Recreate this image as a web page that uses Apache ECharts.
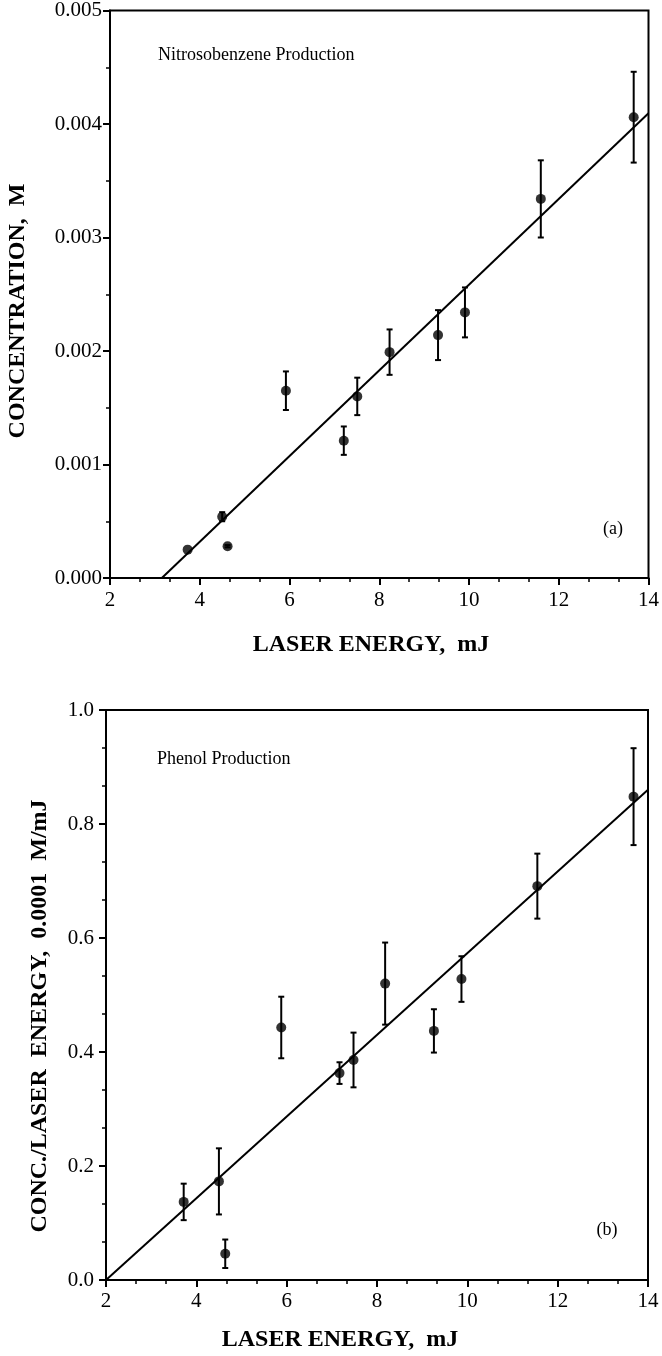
<!DOCTYPE html>
<html>
<head>
<meta charset="utf-8">
<script src="https://cdn.jsdelivr.net/npm/echarts@6/dist/echarts.min.js"></script>
<style>
html,body{margin:0;padding:0;background:#fff;}
#chart{width:662px;height:1356px;}
</style>
</head>
<body>
<div id="chart"></div>
<script>
// ---- Panel (a): Nitrosobenzene production ----
const energyA = [3.73, 4.50, 4.62, 5.92, 7.21, 7.51, 8.23, 9.31, 9.91, 11.60, 13.67];
const concA   = [0.00025, 0.00054, 0.00028, 0.00165, 0.00121, 0.00160, 0.00199, 0.00214, 0.00234, 0.00334, 0.00406];
const errA    = [0, 0.00004, 0.00001, 0.00017, 0.000125, 0.000165, 0.0002, 0.00022, 0.00022, 0.00034, 0.0004];
const fitAx   = [3.155, 14];
const fitAy   = [0, 0.004094];
const yTicksA = [0, 0.001, 0.002, 0.003, 0.004, 0.005];

// ---- Panel (b): Phenol production ----
const energyB = [3.72, 4.50, 4.64, 5.88, 7.17, 7.48, 8.18, 9.26, 9.87, 11.55, 13.68];
const concB   = [0.137, 0.173, 0.046, 0.443, 0.363, 0.386, 0.520, 0.437, 0.528, 0.691, 0.848];
const errB    = [0.032, 0.058, 0.025, 0.054, 0.019, 0.048, 0.072, 0.038, 0.040, 0.057, 0.085];
const fitBx   = [2, 14];
const fitBy   = [0, 0.86];
const yTicksB = [0, 0.2, 0.4, 0.6, 0.8, 1.0];

const xTicks = [2, 4, 6, 8, 10, 12, 14];

const FONT = "'Liberation Serif', 'Times New Roman', serif";

function errData(xs, ys, es) {
  return xs.map((x, i) => [x, ys[i] - es[i], ys[i] + es[i], es[i]]);
}
function pairs(xs, ys) { return xs.map((x, i) => [x, ys[i]]); }

function errRender(params, api) {
  const e = api.value(3);
  if (!e) return null;
  const x = api.value(0);
  const lo = api.coord([x, api.value(1)]);
  const hi = api.coord([x, api.value(2)]);
  const w = 3;
  const st = { stroke: '#000', lineWidth: 2 };
  return {
    type: 'group',
    children: [
      { type: 'line', shape: { x1: lo[0], y1: lo[1], x2: hi[0], y2: hi[1] }, style: st },
      { type: 'line', shape: { x1: lo[0] - w, y1: lo[1], x2: lo[0] + w, y2: lo[1] }, style: st },
      { type: 'line', shape: { x1: hi[0] - w, y1: hi[1], x2: hi[0] + w, y2: hi[1] }, style: st }
    ]
  };
}

function xAxisCfg(gridIndex, margin) {
  return {
    type: 'value', gridIndex: gridIndex,
    min: xTicks[0], max: xTicks[xTicks.length - 1], interval: 2,
    axisLine: { show: true, lineStyle: { color: '#000', width: 2 } },
    axisTick: { show: true, inside: false, length: 7, lineStyle: { color: '#000', width: 2 } },
    minorTick: { show: true, splitNumber: 3, length: 4, lineStyle: { color: '#000', width: 1.5 } },
    splitLine: { show: false },
    axisLabel: { color: '#000', fontFamily: FONT, fontSize: 21, margin: margin }
  };
}
function yAxisCfg(gridIndex, ticks, digits, minorSplit, margin) {
  return {
    type: 'value', gridIndex: gridIndex,
    min: ticks[0], max: ticks[ticks.length - 1], interval: ticks[1] - ticks[0],
    axisLine: { show: true, lineStyle: { color: '#000', width: 2 } },
    axisTick: { show: true, inside: false, length: 7, lineStyle: { color: '#000', width: 2 } },
    minorTick: { show: true, splitNumber: minorSplit, length: 4, lineStyle: { color: '#000', width: 1.5 } },
    splitLine: { show: false },
    axisLabel: { color: '#000', fontFamily: FONT, fontSize: 21, margin: margin,
      formatter: v => Number(v).toFixed(digits) }
  };
}

const chart = echarts.init(document.getElementById('chart'), null, { renderer: 'canvas' });

const option = {
  animation: false,
  backgroundColor: '#fff',
  grid: [
    { left: 110, top: 10, width: 541, height: 568, show: true, borderColor: '#000', borderWidth: 2, backgroundColor: 'transparent' },
    { left: 106, top: 710, width: 542, height: 570, show: true, borderColor: '#000', borderWidth: 2, backgroundColor: 'transparent' }
  ],
  xAxis: [ xAxisCfg(0, 12), xAxisCfg(1, 11) ],
  yAxis: [ yAxisCfg(0, yTicksA, 3, 2, 8), yAxisCfg(1, yTicksB, 1, 3, 12) ],
  series: [
    { type: 'line', xAxisIndex: 0, yAxisIndex: 0, data: pairs(fitAx, fitAy), symbol: 'none',
      lineStyle: { color: '#000', width: 2 }, silent: true },
    { type: 'custom', xAxisIndex: 0, yAxisIndex: 0, data: errData(energyA, concA, errA),
      renderItem: errRender, encode: { x: 0, y: [1, 2] } },
    { type: 'scatter', xAxisIndex: 0, yAxisIndex: 0, data: pairs(energyA, concA), symbol: 'circle',
      symbolSize: 10, itemStyle: { color: '#000' } },

    { type: 'line', xAxisIndex: 1, yAxisIndex: 1, data: pairs(fitBx, fitBy), symbol: 'none',
      lineStyle: { color: '#000', width: 2 }, silent: true },
    { type: 'custom', xAxisIndex: 1, yAxisIndex: 1, data: errData(energyB, concB, errB),
      renderItem: errRender, encode: { x: 0, y: [1, 2] } },
    { type: 'scatter', xAxisIndex: 1, yAxisIndex: 1, data: pairs(energyB, concB), symbol: 'circle',
      symbolSize: 10, itemStyle: { color: '#000' } }
  ],
  graphic: [
    { type: 'text', left: 158, top: 46, style: { text: 'Nitrosobenzene Production', font: "18px " + FONT, fill: '#000' } },
    { type: 'text', x: 613, y: 529, style: { text: '(a)', font: "18px " + FONT, fill: '#000', textAlign: 'center', textVerticalAlign: 'middle' } },
    { type: 'text', x: 371, y: 645, style: { text: 'LASER ENERGY,  mJ', font: "bold 24px " + FONT, fill: '#000', textAlign: 'center', textVerticalAlign: 'middle' } },
    { type: 'text', x: 18, y: 311, rotation: Math.PI / 2, style: { text: 'CONCENTRATION,  M', font: "bold 24px " + FONT, fill: '#000', textAlign: 'center', textVerticalAlign: 'middle' } },

    { type: 'text', left: 157, top: 750, style: { text: 'Phenol Production', font: "18px " + FONT, fill: '#000' } },
    { type: 'text', x: 607, y: 1230, style: { text: '(b)', font: "18px " + FONT, fill: '#000', textAlign: 'center', textVerticalAlign: 'middle' } },
    { type: 'text', x: 340, y: 1340, style: { text: 'LASER ENERGY,  mJ', font: "bold 24px " + FONT, fill: '#000', textAlign: 'center', textVerticalAlign: 'middle' } },
    { type: 'text', x: 40, y: 1016, rotation: Math.PI / 2, style: { text: 'CONC./LASER  ENERGY,  0.0001  M/mJ', font: "bold 24px " + FONT, fill: '#000', textAlign: 'center', textVerticalAlign: 'middle' } }
  ]
};
chart.setOption(option);
</script>
</body>
</html>
